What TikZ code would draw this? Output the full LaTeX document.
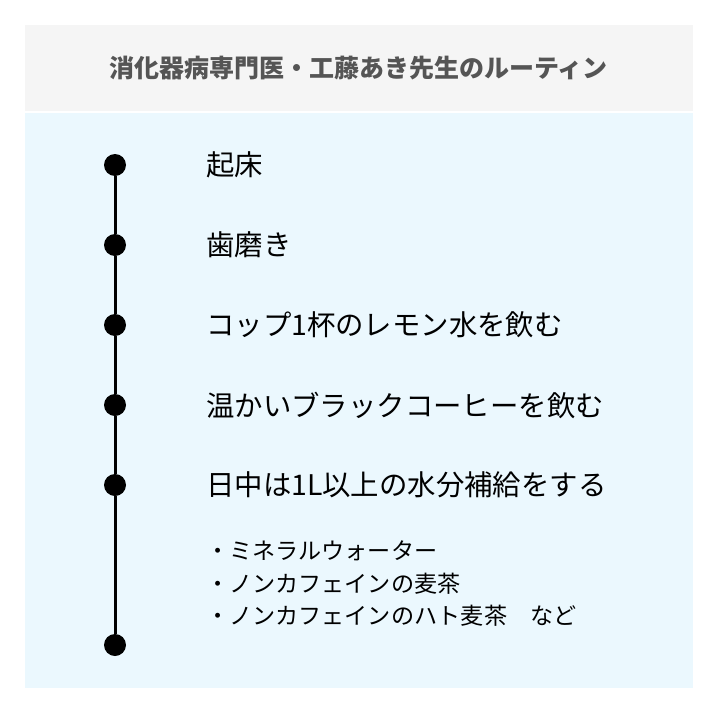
\documentclass[tikz,border=0pt]{standalone}
\usepackage{fontspec}
\setmainfont{Noto Sans CJK JP}
\usepackage{xcolor}
\definecolor{headergray}{RGB}{245,245,245}
\definecolor{panelblue}{RGB}{235,248,254}
\definecolor{titlegray}{RGB}{85,85,85}

\begin{document}
\begin{tikzpicture}[x=1pt, y=-1pt,
  dot/.style={circle, fill=black, inner sep=0pt, minimum size=22pt},
  stepline/.style={line width=3pt},
  routine/.style={anchor=west, inner sep=0pt, font=\fontsize{28.4}{34}\selectfont},
  subitem/.style={anchor=west, inner sep=0pt, font=\fontsize{23.1}{33}\selectfont}]
\useasboundingbox (0,0) rectangle (720,720);
\fill[white] (0,0) rectangle (720,720);
\fill[headergray] (25,25) rectangle (693,111);
\fill[panelblue] (25,113) rectangle (693,688);
\node[font=\bfseries\fontsize{25}{30}\selectfont, text=titlegray] (title) at (358.5,68) {消化器病専門医・工藤あき先生のルーティン};

% timeline
\foreach \i/\y in {1/165,2/245,3/325,4/405,5/485,6/645}
  \node[dot] (d\i) at (115,\y) {};
\foreach \a/\b in {1/2,2/3,3/4,4/5,5/6}
  \draw[stepline] (d\a) -- (d\b);

\node[routine] (t1) at (206,165) {起床};
\node[routine] (t2) at (206,245) {歯磨き};
\node[routine] (t3) at (206,325) {コップ1杯のレモン水を飲む};
\node[routine] (t4) at (206,405) {温かいブラックコーヒーを飲む};
\node[routine] (t5) at (206,485) {日中は1L以上の水分補給をする};

\node[subitem] (s1) at (206,551) {・ミネラルウォーター};
\node[subitem] (s2) at (206,584) {・ノンカフェインの麦茶};
\node[subitem] (s3) at (206,616) {・ノンカフェインのハト麦茶　など};
\end{tikzpicture}
\end{document}
